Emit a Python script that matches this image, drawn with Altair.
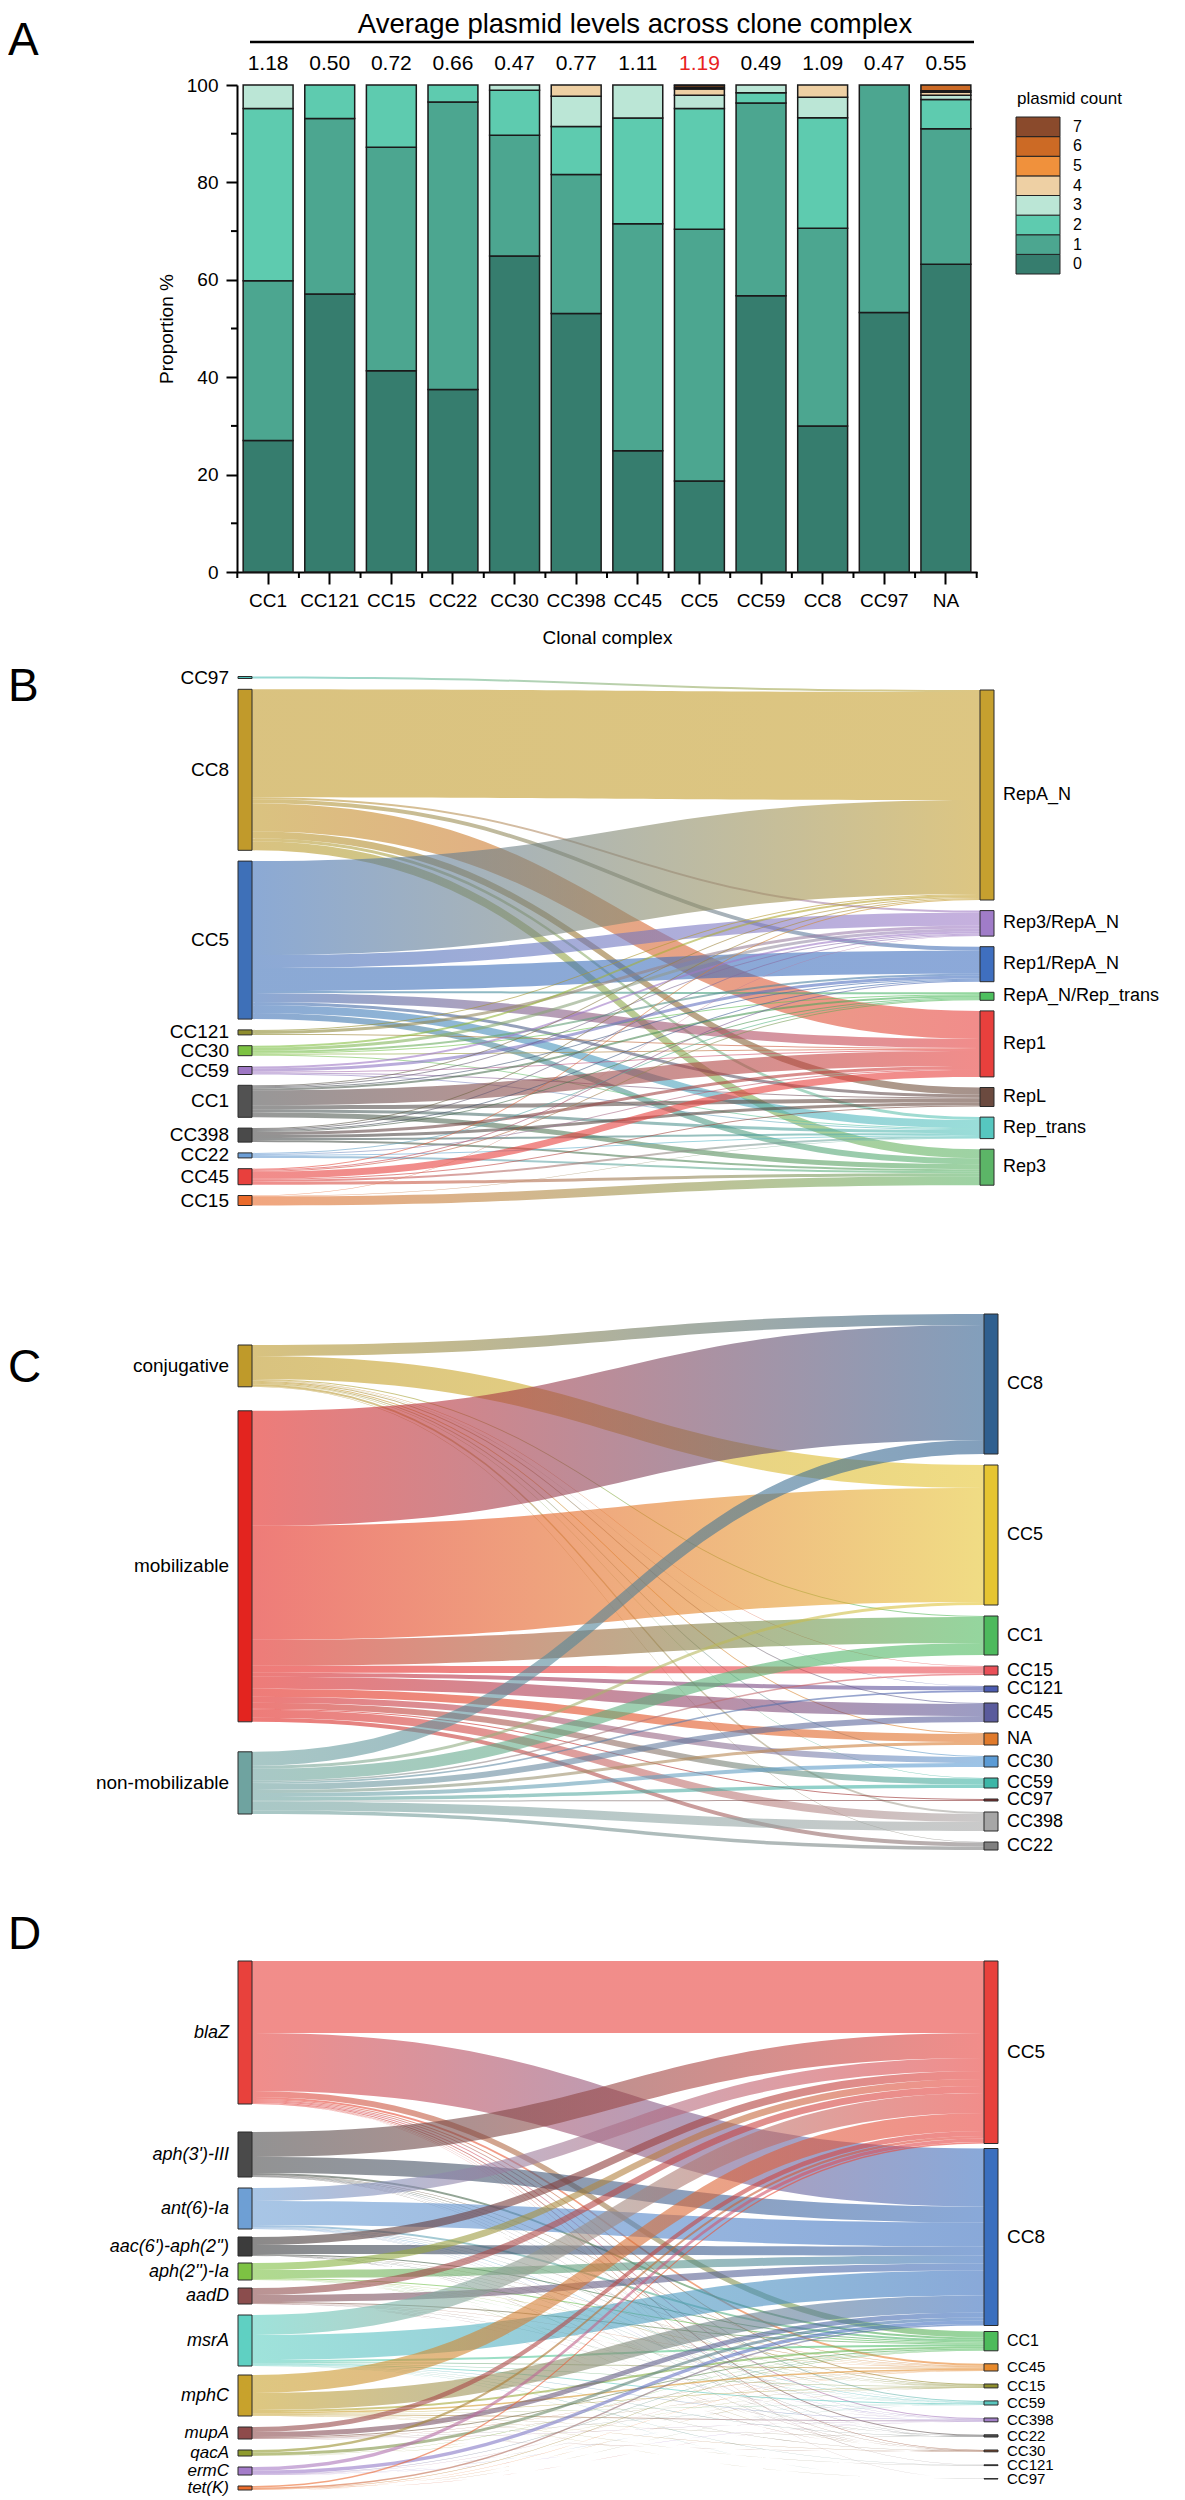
import altair as alt
import numpy as np
import pandas as pd

FONT = "Liberation Sans"

# ------------------------------------------------------------------ Panel A data
cc_names = ["CC1", "CC121", "CC15", "CC22", "CC30", "CC398", "CC45", "CC5", "CC59", "CC8", "CC97", "NA"]
avg_levels = ["1.18", "0.50", "0.72", "0.66", "0.47", "0.77", "1.11", "1.19", "0.49", "1.09", "0.47", "0.55"]
pct_0 = [27.0, 57.1, 41.3, 37.5, 64.9, 53.1, 24.9, 18.7, 56.7, 30.0, 53.3, 63.2]
pct_1 = [32.8, 36.0, 45.9, 59.0, 24.8, 28.5, 46.6, 51.7, 39.6, 40.6, 46.7, 27.8]
pct_2 = [35.4, 6.9, 12.8, 3.5, 9.2, 9.9, 21.7, 24.8, 2.1, 22.7, 0, 6.0]
pct_3 = [4.8, 0, 0, 0, 1.1, 6.2, 6.8, 2.7, 1.6, 4.2, 0, 0.9]
pct_4 = [0, 0, 0, 0, 0, 2.3, 0, 1.3, 0, 2.5, 0, 0.6]
pct_5 = [0, 0, 0, 0, 0, 0, 0, 0.3, 0, 0, 0, 0.3]
pct_6 = [0, 0, 0, 0, 0, 0, 0, 0.4, 0, 0, 0, 1.2]
pct_7 = [0, 0, 0, 0, 0, 0, 0, 0.1, 0, 0, 0, 0]
count_labels = ["0", "1", "2", "3", "4", "5", "6", "7"]
count_colors = ["#367D6E", "#4CA690", "#5ECBAF", "#BBE6D6", "#EED0A4", "#F0913C", "#CC6A25", "#8A4A2C"]
minor_ticks = [10, 30, 50, 70, 90]

# ------------------------------------------------------------------ Panel B data
b_left = ["CC97", "CC8", "CC5", "CC121", "CC30", "CC59", "CC1", "CC398", "CC22", "CC45", "CC15"]
b_left_colors = ["#4FC1B9", "#C19A2B", "#3E70B8", "#8E8C2E", "#7CC242", "#9E77C4", "#525252",
                 "#4A4A4A", "#6C9ED6", "#E8403D", "#EA6A2A"]
b_right = ["RepA_N", "Rep3/RepA_N", "Rep1/RepA_N", "RepA_N/Rep_trans", "Rep1", "RepL", "Rep_trans", "Rep3"]
b_right_colors = ["#C6A02F", "#A07CC8", "#3F6FBF", "#4DBF5E", "#E8403D", "#6B4A3F", "#56C7C0", "#5CB567"]
b_links = [
    [2, 0, 0, 0, 0, 0, 0, 0],
    [108, 2, 4, 0, 28, 7, 3, 9],
    [94, 13, 23, 2, 9, 3, 8, 6],
    [1, 3, 0, 0, 1, 0, 0, 0],
    [2, 3, 2, 1, 1, 0, 1, 0],
    [0, 2, 3, 0, 1, 1, 1, 0],
    [1, 1, 1, 2, 15, 4, 3, 5],
    [1, 1, 1, 1, 3, 3, 2, 2],
    [0, 0, 0, 1, 1, 0, 1, 2],
    [1, 0, 1, 1, 7, 1, 2, 3],
    [0, 0.5, 0, 0, 0, 0, 0.5, 9],
]

# ------------------------------------------------------------------ Panel C data
c_left = ["conjugative", "mobilizable", "non-mobilizable"]
c_left_colors = ["#BF9A2A", "#E3241F", "#6FA3A0"]
c_right = ["CC8", "CC5", "CC1", "CC15", "CC121", "CC45", "NA", "CC30", "CC59", "CC97", "CC398", "CC22"]
c_right_colors = ["#2F5F8F", "#E6C532", "#4DBA5D", "#E94F57", "#4B5BB0", "#5A5B9C", "#E07A2B",
                  "#5B9BD5", "#3DB6A7", "#8C2F2F", "#A6A6A6", "#808080"]
c_links = [
    [11, 23, 1, 0.5, 0.3, 1, 1, 1, 0.5, 0, 2, 0.5],
    [115, 114, 26, 7, 4, 12, 8, 6, 6, 1, 8, 4],
    [14, 3, 12, 1.5, 1.7, 6, 3, 4, 3.5, 1, 9, 3.5],
]

# ------------------------------------------------------------------ Panel D data
d_left = ["blaZ", "aph(3')-III", "ant(6)-Ia", "aac(6')-aph(2'')", "aph(2'')-Ia", "aadD",
          "msrA", "mphC", "mupA", "qacA", "ermC", "tet(K)"]
d_left_colors = ["#E8413C", "#4A4A4A", "#6E9FD4", "#3C3C3C", "#7DC243", "#8B4D4D",
                 "#5FD0C2", "#C8A22C", "#8E4B4B", "#8F9B2F", "#A47CC9", "#EB6B2A"]
d_right = ["CC5", "CC8", "CC1", "CC45", "CC15", "CC59", "CC398", "CC22", "CC30", "CC121", "CC97"]
d_right_colors = ["#E8413C", "#3A6FBF", "#4DBB5B", "#E7892B", "#8E8E2D", "#59C6BE", "#A17FC7",
                  "#555555", "#8B4A2B", "#888888", "#AAAAAA"]
d_links = [
    [72, 58, 6, 2, 1, 1, 1, 1, 0.5, 0.3, 0.2],
    [25, 16, 2, 0.5, 0.5, 0.3, 0.3, 0.2, 0.2, 0, 0],
    [13, 24, 2, 0.5, 0.3, 0.5, 0.3, 0.2, 0.2, 0, 0],
    [8, 9, 1, 0.3, 0.2, 0.2, 0.1, 0.1, 0.1, 0, 0],
    [7, 8, 1, 0.3, 0.2, 0.2, 0.1, 0.1, 0.1, 0, 0],
    [7, 7, 1, 0.3, 0.2, 0.2, 0.1, 0.1, 0.1, 0, 0],
    [20, 25, 2, 1, 0.5, 1, 0.5, 0.3, 0.3, 0.3, 0.1],
    [18, 17, 2, 1.5, 0.5, 0.3, 1, 0.2, 0.2, 0.2, 0.1],
    [5, 5, 1, 0.3, 0.2, 0.2, 0.2, 0, 0.1, 0, 0],
    [2.5, 3, 0.3, 0.1, 0.1, 0, 0, 0, 0, 0, 0],
    [3.5, 3.5, 0.5, 0.2, 0.1, 0.1, 0.1, 0, 0, 0, 0],
    [1.5, 1.5, 0.5, 0.2, 0.1, 0.1, 0.1, 0, 0, 0, 0],
]

ORIGIN_X = 239   # page x of the plot origin shared by all panels

# ================================================================== Panel A chart
WA, HA = 740, 487
pct_by_count = [pct_0, pct_1, pct_2, pct_3, pct_4, pct_5, pct_6, pct_7]
rows = []
for k, arr in enumerate(pct_by_count):
    for cc, v in zip(cc_names, arr):
        if v > 0:
            rows.append({"cc": cc, "cnt": count_labels[k], "k": k, "pct": v})
bars_df = pd.DataFrame(rows)

x_axis = alt.Axis(title="Clonal complex", labelAngle=0, tickSize=12, tickWidth=2, domainWidth=2,
                  labelFontSize=19, titleFontSize=19, titleFontWeight="normal", labelPadding=7,
                  titlePadding=18, domainColor="black", tickColor="black", labelColor="black",
                  titleColor="black", labelFont=FONT, titleFont=FONT)
y_axis = alt.Axis(values=[0, 20, 40, 60, 80, 100], title="Proportion %", tickSize=11, tickWidth=2,
                  domainWidth=2, labelFontSize=19, titleFontSize=19, titleFontWeight="normal",
                  labelPadding=8, titlePadding=10, grid=False, domainColor="black", tickColor="black",
                  labelColor="black", titleColor="black", labelFont=FONT, titleFont=FONT)
x_scale = alt.Scale(paddingInner=0.19, paddingOuter=0.1)
y_scale = alt.Scale(domain=[0, 100], nice=False)
STEP = WA / (len(cc_names) - 0.19 + 0.2)
color_scale = alt.Scale(domain=count_labels, range=count_colors)

bars = alt.Chart(bars_df).mark_bar(stroke="#1a1a1a", strokeWidth=1.5).encode(
    x=alt.X("cc:N", sort=cc_names, scale=x_scale, axis=x_axis),
    y=alt.Y("pct:Q", stack="zero", scale=y_scale, axis=y_axis),
    color=alt.Color("cnt:N", scale=color_scale, legend=None),
    order=alt.Order("k:Q", sort="ascending"),
)

avg_df = pd.DataFrame({"cc": cc_names, "avg": avg_levels, "top": [100] * len(cc_names)})
avg_text = alt.Chart(avg_df).mark_text(fontSize=21, baseline="middle", dy=-21, font=FONT).encode(
    x=alt.X("cc:N", sort=cc_names, scale=x_scale, axis=x_axis),
    y=alt.Y("top:Q", scale=y_scale, axis=y_axis),
    text="avg:N",
    color=alt.condition(alt.datum.cc == "CC5", alt.value("#E8231F"), alt.value("black")),
)

minor_df = pd.DataFrame({"v": minor_ticks})
minor = alt.Chart(minor_df).mark_rule(strokeWidth=2, color="black").encode(
    y=alt.Y("v:Q", scale=y_scale, axis=y_axis), x=alt.value(-6), x2=alt.value(0))

edge_df = pd.DataFrame({"cc": cc_names})
edge_ticks = alt.Chart(edge_df).mark_rule(strokeWidth=2, color="black", xOffset=-STEP / 2).encode(
    x=alt.X("cc:N", sort=cc_names, scale=x_scale, axis=x_axis), y=alt.value(HA), y2=alt.value(HA + 6))
last_df = pd.DataFrame({"cc": [cc_names[-1]]})
last_tick = alt.Chart(last_df).mark_rule(strokeWidth=2, color="black", xOffset=STEP / 2).encode(
    x=alt.X("cc:N", sort=cc_names, scale=x_scale, axis=x_axis), y=alt.value(HA), y2=alt.value(HA + 6))

title_df = pd.DataFrame({"t": ["Average plasmid levels across clone complex"]})
title_txt = alt.Chart(title_df).mark_text(fontSize=27.5, baseline="middle", align="center", font=FONT,
                                          color="black").encode(
    x=alt.value(398), y=alt.value(-60), text="t:N")
underline = alt.Chart(title_df).mark_rule(strokeWidth=2.5, color="black").encode(
    x=alt.value(13), x2=alt.value(737), y=alt.value(-43))
letA_df = pd.DataFrame({"t": ["A"]})
letA = alt.Chart(letA_df).mark_text(fontSize=46, baseline="middle", align="left", font=FONT,
                                    color="black").encode(
    x=alt.value(-229), y=alt.value(-44), text="t:N")
legt_df = pd.DataFrame({"t": ["plasmid count"]})
leg_title = alt.Chart(legt_df).mark_text(fontSize=17, baseline="middle", align="left", font=FONT,
                                         color="black").encode(
    x=alt.value(780), y=alt.value(14), text="t:N")

inner = alt.layer(bars, avg_text, minor, edge_ticks, last_tick, title_txt, underline, letA, leg_title)

# legend drawn from the count categories (own y scale)
leg_df = pd.DataFrame({"cnt": count_labels, "k": list(range(8))})
leg_df["k1"] = leg_df["k"] + 1
leg_df["kc"] = leg_df["k"] + 0.5
leg_scale = alt.Scale(domain=[0, 8], range=[189, 32], nice=False, zero=False)
leg_rect = alt.Chart(leg_df).mark_rect(stroke="#222", strokeWidth=1).encode(
    x=alt.value(779), x2=alt.value(823),
    y=alt.Y("k1:Q", scale=leg_scale, axis=None), y2="k:Q",
    fill=alt.Fill("cnt:N", scale=color_scale, legend=None))
leg_text = alt.Chart(leg_df).mark_text(align="left", baseline="middle", fontSize=16, font=FONT,
                                       color="black").encode(
    x=alt.value(836), y=alt.Y("kc:Q", scale=leg_scale, axis=None), text="cnt:N")
legend_part = alt.layer(leg_rect, leg_text)

panelA = alt.layer(inner, legend_part).resolve_scale(y="independent").properties(width=WA, height=HA)


# ================================================================== Sankey builder
def build_sankey(left, lcol, right, rcol, links, xl, xr, ltop, lgap, rtop, rgap, ytop, ybot,
                 letter, letter_y, lfs=19, rfs=19, left_style="normal", nw=14, op=0.6):
    M = np.array(links, dtype=float)
    lsz = M.sum(axis=1)
    rsz = M.sum(axis=0)

    def stack(sizes, top, gaps):
        if np.isscalar(gaps):
            gaps = [gaps] * (len(sizes) - 1)
        pos, y = [], top
        for i, s in enumerate(sizes):
            pos.append(y)
            y += s + (gaps[i] if i < len(gaps) else 0)
        return pos

    ly = stack(lsz, ltop, lgap)
    ry = stack(rsz, rtop, rgap)
    XS = alt.Scale(domain=[ORIGIN_X, 1177], nice=False, zero=False)
    YS = alt.Scale(domain=[ytop, ybot], reverse=True, nice=False, zero=False)

    tpos = {}
    for j in range(M.shape[1]):
        off = ry[j]
        for i in range(M.shape[0]):
            if M[i, j] > 0:
                tpos[(i, j)] = off
                off += M[i, j]

    x_s, x_t = xl + nw, xr
    xm = (x_s + x_t) / 2
    t = np.linspace(0, 1, 41)
    bx = (1 - t) ** 3 * x_s + 3 * (1 - t) ** 2 * t * xm + 3 * (1 - t) * t ** 2 * xm + t ** 3 * x_t
    ws = (1 - t) ** 3 + 3 * (1 - t) ** 2 * t
    wt = 1 - ws

    layers = []
    for i in range(M.shape[0]):
        off = ly[i]
        for j in range(M.shape[1]):
            v = M[i, j]
            if v <= 0:
                continue
            ys0 = off
            off += v
            yt0 = tpos[(i, j)]
            top = ys0 * ws + yt0 * wt
            df = pd.DataFrame({"x": np.round(bx, 2), "ya": np.round(top, 2), "yb": np.round(top + v, 2)})
            grad = {"gradient": "linear", "x1": 0, "y1": 0, "x2": 1, "y2": 0,
                    "stops": [{"offset": 0, "color": lcol[i]}, {"offset": 1, "color": rcol[j]}]}
            layers.append(alt.Chart(df).mark_area(fill=grad, fillOpacity=op, orient="vertical").encode(
                x=alt.X("x:Q", scale=XS, axis=None),
                y=alt.Y("ya:Q", scale=YS, axis=None),
                y2="yb:Q"))

    nodes = []
    for i in range(len(left)):
        nodes.append({"x0": xl, "x1": xl + nw, "y0": ly[i], "y1": ly[i] + lsz[i], "c": lcol[i]})
    for j in range(len(right)):
        nodes.append({"x0": xr, "x1": xr + nw, "y0": ry[j], "y1": ry[j] + rsz[j], "c": rcol[j]})
    nodes_df = pd.DataFrame(nodes)
    layers.append(alt.Chart(nodes_df).mark_rect(stroke="#2b2b2b", strokeWidth=1).encode(
        x=alt.X("x0:Q", scale=XS, axis=None), x2="x1:Q",
        y=alt.Y("y0:Q", scale=YS, axis=None), y2="y1:Q",
        fill=alt.Fill("c:N", scale=None)))

    lfs_l = lfs if isinstance(lfs, list) else [lfs] * len(left)
    rfs_l = rfs if isinstance(rfs, list) else [rfs] * len(right)
    ldf = pd.DataFrame({"t": left, "x": [xl - 9] * len(left),
                        "y": [ly[i] + lsz[i] / 2 for i in range(len(left))], "fs": lfs_l})
    rdf = pd.DataFrame({"t": right, "x": [xr + nw + 9] * len(right),
                        "y": [ry[j] + rsz[j] / 2 for j in range(len(right))], "fs": rfs_l})
    layers.append(alt.Chart(ldf).mark_text(align="right", baseline="middle", font=FONT, color="black",
                                           fontStyle=left_style).encode(
        x=alt.X("x:Q", scale=XS, axis=None), y=alt.Y("y:Q", scale=YS, axis=None),
        text="t:N", size=alt.Size("fs:Q", scale=None)))
    layers.append(alt.Chart(rdf).mark_text(align="left", baseline="middle", font=FONT, color="black").encode(
        x=alt.X("x:Q", scale=XS, axis=None), y=alt.Y("y:Q", scale=YS, axis=None),
        text="t:N", size=alt.Size("fs:Q", scale=None)))
    let_df = pd.DataFrame({"t": [letter]})
    layers.append(alt.Chart(let_df).mark_text(align="left", baseline="middle", font=FONT, fontSize=46,
                                              color="black").encode(
        x=alt.value(10 - ORIGIN_X), y=alt.value(letter_y - ytop), text="t:N"))
    return alt.layer(*layers).properties(width=1177 - ORIGIN_X, height=ybot - ytop)


panelB = build_sankey(b_left, b_left_colors, b_right, b_right_colors, b_links,
                      xl=240, xr=982, ltop=677.5, lgap=10.8, rtop=691, rgap=10.6,
                      ytop=648, ybot=1262, letter="B", letter_y=688, lfs=19, rfs=18)

panelC = build_sankey(c_left, c_left_colors, c_right, c_right_colors, c_links,
                      xl=240, xr=986, ltop=1346, lgap=[24, 30], rtop=1315, rgap=11,
                      ytop=1262, ybot=1895, letter="C", letter_y=1369, lfs=19, rfs=18)

panelD = build_sankey(d_left, d_left_colors, d_right, d_right_colors, d_links,
                      xl=240, xr=986, ltop=1962, lgap=[28, 11, 8, 7, 8, 11, 9, 11, 11, 11, 11],
                      rtop=1962, rgap=[5, 6, 13, 13, 13, 13, 13, 13, 13, 13],
                      ytop=1895, ybot=2488, letter="D", letter_y=1936,
                      lfs=[18, 18, 18, 18, 18, 18, 18, 18, 17, 17, 17, 17],
                      rfs=[19, 19, 16, 15, 15, 15, 15, 15, 15, 15, 15], left_style="italic")

chart = alt.vconcat(panelA, panelB, panelC, panelD, spacing=0).properties(
    padding={"top": 3, "left": 0, "right": 0, "bottom": 0})
chart = chart.configure(font=FONT).configure_view(stroke=None)

chart.save("out.html", embed_options={"renderer": "svg", "actions": False})
